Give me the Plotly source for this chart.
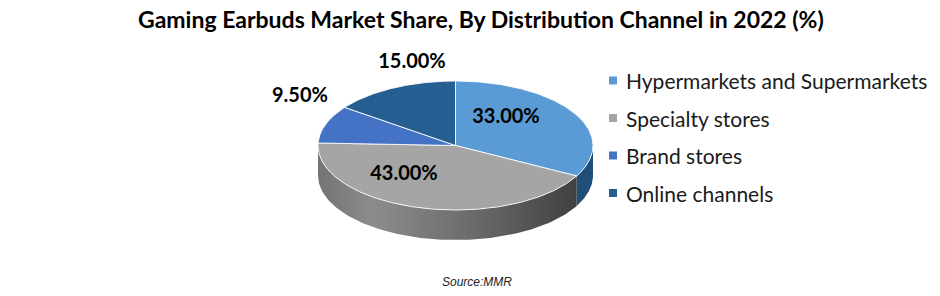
import numpy as np
import plotly.graph_objects as go

# ---------------- data ----------------
categories = ["Hypermarkets and Supermarkets", "Specialty stores", "Brand stores", "Online channels"]
shares = [33.0, 43.0, 9.5, 15.0]
label_texts = [f"{v:.2f}%" for v in shares]

# ---------------- style ----------------
top_colors = ["#5B9BD5", "#A5A5A5", "#4472C4", "#255E91"]
side_colors = ["#1F4E79", "#7A7A7A", "#2A4F91", "#163A5C"]
side_gradients = [
    None,
    [[0.0, "#747474"], [0.2, "#8C8C8C"], [0.55, "#6C6C6C"], [1.0, "#3A3A3A"]],
    None,
    None,
]
FONT = "Lato"
W, H = 940, 296
CX, CY = 455.5, 145.5      # centre of the top face (px)
RX, RY = 137.5, 64.5       # radii of the top face (px)
DEPTH = 30                 # thickness of the pie (px)
label_pos = [(506, 118), (404, 175), (300, 97), (412, 63)]
legend_x, legend_y0, legend_dy = 613, 80.5, 37.5

fig = go.Figure()

vals = np.array(shares, dtype=float)
frac = vals / vals.sum()
ends = np.cumsum(frac) * 360.0
starts = ends - frac * 360.0


def pt(theta_deg, dy=0.0):
    t = np.radians(theta_deg)
    return CX + RX * np.sin(t), CY - RY * np.cos(t) + dy


# side walls (front half only: 90..270 deg clockwise from 12 o'clock)
for i in range(len(vals)):
    a1, a2 = max(starts[i], 90.0), min(ends[i], 270.0)
    if a2 <= a1:
        continue
    th = np.linspace(a1, a2, 120)
    xt, yt = pt(th)
    xb, yb = pt(th[::-1], DEPTH)
    xs = np.concatenate([xt, xb, xt[:1]])
    ys = np.concatenate([yt, yb, yt[:1]])
    kw = dict(fillcolor=side_colors[i])
    if side_gradients[i] is not None:
        kw = dict(fillgradient=dict(type="horizontal", colorscale=side_gradients[i],
                                    start=CX - RX, stop=CX + RX))
    fig.add_trace(go.Scatter(x=xs, y=ys, mode="lines", fill="toself",
                             line=dict(width=0, color=side_colors[i]),
                             hoverinfo="skip", showlegend=False, **kw))

# top faces
for i in range(len(vals)):
    th = np.linspace(starts[i], ends[i], 200)
    xa, ya = pt(th)
    xs = np.concatenate([[CX], xa, [CX]])
    ys = np.concatenate([[CY], ya, [CY]])
    fig.add_trace(go.Scatter(x=xs, y=ys, mode="lines", fill="toself",
                             fillcolor=top_colors[i],
                             line=dict(width=1, color="rgba(255,255,255,0.85)"),
                             name=categories[i], hoverinfo="name", showlegend=False))

# data labels
fig.add_trace(go.Scatter(x=[p[0] for p in label_pos], y=[p[1] for p in label_pos],
                         mode="text", text=label_texts,
                         textfont=dict(family=FONT, size=20, color="#000000", weight="bold"),
                         hoverinfo="skip", showlegend=False))

# legend (manual)
ly = [legend_y0 + k * legend_dy for k in range(len(categories))]
fig.add_trace(go.Scatter(x=[legend_x] * len(categories), y=ly, mode="markers",
                         marker=dict(symbol="square", size=8, color=top_colors, line=dict(width=0)),
                         hoverinfo="skip", showlegend=False))
for k, c in enumerate(categories):
    fig.add_annotation(x=legend_x + 11, y=ly[k], text=c, showarrow=False,
                       xanchor="left", yanchor="middle",
                       font=dict(family=FONT, size=21, color="#1a1a1a"))

fig.add_annotation(x=481, y=19, text="<b>Gaming Earbuds Market Share, By Distribution Channel in 2022 (%)</b>",
                   showarrow=False, xanchor="center", yanchor="middle",
                   font=dict(family=FONT, size=23, color="#000000"))
fig.add_annotation(x=477, y=282, text="<i>Source:MMR</i>", showarrow=False,
                   xanchor="center", yanchor="middle",
                   font=dict(family="Liberation Sans", size=12, color="#222222"))

fig.update_layout(
    width=W, height=H, margin=dict(l=0, r=0, t=0, b=0),
    paper_bgcolor="white", plot_bgcolor="white",
    xaxis=dict(range=[0, W], visible=False, fixedrange=True),
    yaxis=dict(range=[H, 0], visible=False, fixedrange=True),
    showlegend=False,
)
fig.write_html("out.html", config={"displayModeBar": False})
